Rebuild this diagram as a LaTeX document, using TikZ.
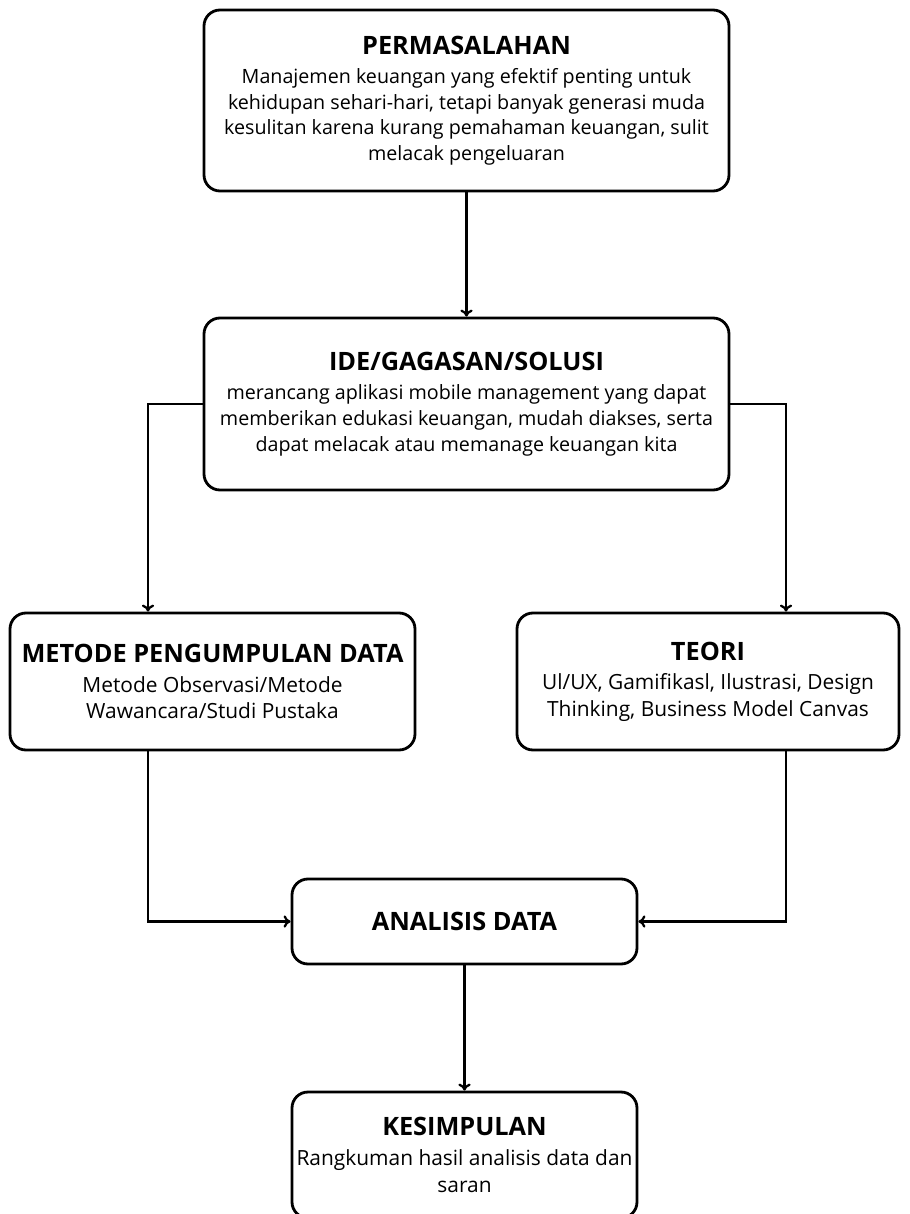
\documentclass[tikz,border=0pt]{standalone}
\usepackage{fontspec}
\setmainfont{Open Sans}
\usetikzlibrary{arrows.meta}
\newcommand{\ttl}[1]{{\fontsize{14.4}{17}\selectfont\bfseries #1}}

\begin{document}
\begin{tikzpicture}[box/.style={draw, line width=1.6pt, rounded corners=0.32cm, align=center, font=\fontsize{11.2}{14.6}\selectfont, inner sep=0pt},
    bigbox/.style={box, font=\fontsize{11.9}{15}\selectfont},
    link/.style={-{To[length=4pt, width=7pt]}, line width=1.3pt}]
    \useasboundingbox (0, 0) rectangle (18.18, -24.28);

    \node[box, minimum width=10.5cm, minimum height=3.62cm] (prob) at (9.33, -2.01) {\ttl{PERMASALAHAN}\\[2pt]Manajemen keuangan yang efektif penting untuk\\kehidupan sehari-hari, tetapi banyak generasi muda\\kesulitan karena kurang pemahaman keuangan, sulit\\melacak pengeluaran};
    \node[box, minimum width=10.5cm, minimum height=3.44cm] (ide) at (9.33, -8.08) {\ttl{IDE/GAGASAN/SOLUSI}\\[2pt]merancang aplikasi mobile management yang dapat\\memberikan edukasi keuangan, mudah diakses, serta\\dapat melacak atau memanage keuangan kita};
    \node[bigbox, minimum width=8.1cm, minimum height=2.74cm] (metode) at (4.25, -13.63) {\ttl{METODE PENGUMPULAN DATA}\\[2pt]Metode Observasi/Metode\\Wawancara/Studi Pustaka};
    \node[bigbox, minimum width=7.64cm, minimum height=2.74cm] (teori) at (14.16, -13.63) {\ttl{TEORI}\\[2pt]Ul/UX, Gamifikasl, Ilustrasi, Design\\Thinking, Business Model Canvas};
    \node[bigbox, minimum width=6.9cm, minimum height=1.7cm] (analisis) at (9.29, -18.43) {\ttl{ANALISIS DATA}};
    \node[bigbox, minimum width=6.9cm, minimum height=2.52cm] (simpul) at (9.29, -23.1) {\ttl{KESIMPULAN}\\[2pt]Rangkuman hasil analisis data dan\\saran};

    \coordinate (kiri) at (2.96, -8.1);
    \coordinate (kanan) at (15.72, -8.1);

    \draw[link] (prob) to (ide);
    \draw[link] (ide.west) -| (kiri |- metode.north);
    \draw[link] (ide.east) -| (kanan |- teori.north);
    \draw[link] (kiri |- metode.south) |- (analisis.west);
    \draw[link] (kanan |- teori.south) |- (analisis.east);
    \draw[link] (analisis) to (simpul);
\end{tikzpicture}
\end{document}
